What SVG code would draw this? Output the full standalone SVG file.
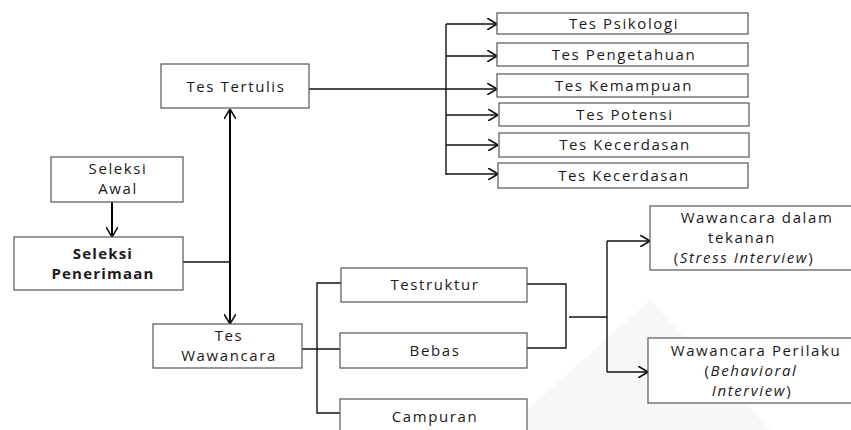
<svg xmlns="http://www.w3.org/2000/svg" width="851" height="430" viewBox="0 0 851 430">
<defs>
<marker id="ah" viewBox="0 0 10 12" refX="10" refY="6" markerWidth="10" markerHeight="12" markerUnits="userSpaceOnUse" orient="auto-start-reverse">
<path d="M0,0 L10,6 L0,12" fill="none" stroke="#111" stroke-width="1.6"/>
</marker>
</defs>
<style>
.box{fill:#fff;stroke:#555;stroke-width:1.2}
.t{font-family:"Open Sans","DejaVu Sans",sans-serif;font-size:15px;fill:#1a1a1a;text-anchor:middle;letter-spacing:1.6px}
.b{font-weight:bold;letter-spacing:1.2px}
.i{font-style:italic}
.ln{fill:none;stroke:#111;stroke-width:1.4}
.thick{fill:none;stroke:#000;stroke-width:2}
</style>
<rect width="851" height="430" fill="#fff"/>
<polygon points="505,430 650,300 770,430" fill="#f7f7f7"/>
<g id="connectors">
<line class="ln" x1="309" y1="89" x2="497" y2="89" marker-end="url(#ah)"/>
<line class="ln" x1="446" y1="24" x2="446" y2="175"/>
<line class="ln" x1="446" y1="24" x2="497" y2="24" marker-end="url(#ah)"/>
<line class="ln" x1="446" y1="56" x2="497" y2="56" marker-end="url(#ah)"/>
<line class="ln" x1="446" y1="115" x2="498" y2="115" marker-end="url(#ah)"/>
<line class="ln" x1="446" y1="145" x2="498" y2="145" marker-end="url(#ah)"/>
<line class="ln" x1="446" y1="174" x2="498" y2="174" marker-end="url(#ah)"/>
<line class="thick" x1="112" y1="202" x2="112" y2="237" marker-end="url(#ah)"/>
<line class="thick" x1="230" y1="109" x2="230" y2="324" marker-start="url(#ah)" marker-end="url(#ah)"/>
<line class="ln" x1="183" y1="262" x2="230" y2="262"/>
<line class="ln" x1="302" y1="349" x2="342" y2="349"/>
<polyline class="ln" points="341,283 317,283 317,413 341,413"/>
<polyline class="ln" points="527,284 566,284 566,348 527,348"/>
<line class="ln" x1="569" y1="317" x2="607" y2="317"/>
<line class="ln" x1="607" y1="241" x2="607" y2="372"/>
<line class="ln" x1="607" y1="241" x2="650" y2="241" marker-end="url(#ah)"/>
<line class="ln" x1="607" y1="372" x2="648" y2="372" marker-end="url(#ah)"/>
</g>
<g id="tes-tertulis"><rect class="box" x="161" y="64" width="148" height="44"/><text class="t" x="236" y="92">Tes Tertulis</text></g>
<g id="seleksi-awal"><rect class="box" x="51" y="157" width="132" height="45"/><text class="t" x="118" y="174">Seleksi</text><text class="t" x="118" y="194">Awal</text></g>
<g id="seleksi-penerimaan"><rect class="box" x="14" y="237" width="169" height="53"/><text class="t b" x="103" y="259">Seleksi</text><text class="t b" x="103" y="279">Penerimaan</text></g>
<g id="tes-wawancara"><rect class="box" x="153" y="324" width="149" height="44"/><text class="t" x="229" y="341">Tes</text><text class="t" x="229" y="361">Wawancara</text></g>
<g id="tes-psikologi"><rect class="box" x="497" y="13" width="251" height="21"/><text class="t" x="624" y="29">Tes Psikologi</text></g>
<g id="tes-pengetahuan"><rect class="box" x="497" y="43" width="251" height="23"/><text class="t" x="624" y="60">Tes Pengetahuan</text></g>
<g id="tes-kemampuan"><rect class="box" x="497" y="74" width="251" height="23"/><text class="t" x="624" y="91">Tes Kemampuan</text></g>
<g id="tes-potensi"><rect class="box" x="499" y="103" width="250" height="23"/><text class="t" x="625" y="120">Tes Potensi</text></g>
<g id="tes-kecerdasan-1"><rect class="box" x="499" y="133" width="250" height="24"/><text class="t" x="625" y="150">Tes Kecerdasan</text></g>
<g id="tes-kecerdasan-2"><rect class="box" x="498" y="163" width="250" height="25"/><text class="t" x="624" y="181">Tes Kecerdasan</text></g>
<g id="testruktur"><rect class="box" x="341" y="268" width="186" height="34"/><text class="t" x="435" y="290">Testruktur</text></g>
<g id="bebas"><rect class="box" x="340" y="333" width="187" height="35"/><text class="t" x="435" y="356">Bebas</text></g>
<g id="campuran"><rect class="box" x="340" y="399" width="187" height="40"/><text class="t" x="435" y="422">Campuran</text></g>
<g id="wawancara-tekanan"><rect class="box" x="650" y="206" width="210" height="64"/><text class="t" x="757" y="223">Wawancara dalam</text><text class="t" x="742" y="243">tekanan</text><text class="t" x="744" y="263">(<tspan class="i">Stress Interview</tspan>)</text></g>
<g id="wawancara-perilaku"><rect class="box" x="648" y="338" width="212" height="65"/><text class="t" x="756" y="356">Wawancara Perilaku</text><text class="t" x="751" y="376">(<tspan class="i">Behavioral</tspan></text><text class="t" x="752" y="396"><tspan class="i">Interview</tspan>)</text></g>
</svg>
